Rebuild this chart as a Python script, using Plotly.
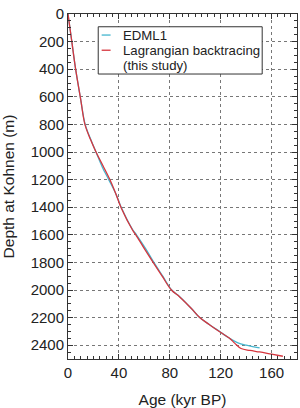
import plotly.graph_objects as go

edml_age = [0, 1.5, 3, 6, 10, 13.5, 18, 22, 27, 32, 37.5, 41.8, 51, 53.8, 61, 67.5, 74.5, 81.5, 88, 97, 103.5, 111, 119.5, 127, 133.6, 140, 150.6]
edml_depth = [0, 100, 200, 400, 620, 800, 912, 1000, 1110, 1200, 1300, 1400, 1565, 1600, 1700, 1800, 1900, 2000, 2050, 2134, 2200, 2250, 2303, 2350, 2383, 2400, 2420]

lag_age = [0, 1.5, 3, 6, 10, 13.3, 17.8, 22, 27.5, 32.9, 37.5, 41.6, 50.7, 53.3, 60, 66.9, 74, 81.3, 87.8, 97, 103.5, 111, 119.2, 127, 131, 136, 143, 150.6, 160, 168.9]
lag_depth = [0, 100, 200, 400, 620, 800, 912, 1000, 1100, 1200, 1300, 1400, 1565, 1600, 1700, 1800, 1900, 2000, 2050, 2134, 2200, 2250, 2303, 2350, 2385, 2424, 2438, 2449, 2465, 2480]

names = ["EDML1", "Lagrangian backtracing", "(this study)"]
colors = ["#45b6cf", "#d6353d"]
FONT = "Liberation Sans, Arial, Helvetica"

fig = go.Figure()
fig.add_trace(go.Scatter(x=edml_age, y=edml_depth, mode="lines", name=names[0],
                         line=dict(color=colors[0], width=1.3), line_shape="spline"))
fig.add_trace(go.Scatter(x=lag_age, y=lag_depth, mode="lines", name=names[1] + " " + names[2],
                         line=dict(color=colors[1], width=1.3), line_shape="spline"))

axis_common = dict(
    showline=True, linecolor="#333", linewidth=1, mirror="allticks",
    ticks="inside", ticklen=5, tickcolor="#333",
    showgrid=True, gridcolor="#777", griddash="dot", gridwidth=1,
    zeroline=False,
    tickfont=dict(family=FONT, size=15, color="#222"),
)

fig.update_xaxes(range=[0, 180], tickvals=[0, 40, 80, 120, 160],
                 title=dict(text="Age (kyr BP)", font=dict(family=FONT, size=15.5, color="#222"), standoff=14),
                 minor=dict(dtick=5, ticklen=3, ticks="inside", tickcolor="#333", showgrid=False),
                 **axis_common)
fig.update_yaxes(range=[2500, 0], tickvals=list(range(0, 2500, 200)),
                 title=dict(text="Depth at Kohnen (m)", font=dict(family=FONT, size=15.5, color="#222"), standoff=12),
                 minor=dict(dtick=50, ticklen=3, ticks="inside", tickcolor="#333", showgrid=False),
                 **axis_common)

# custom legend (box, line samples, labels) in paper coordinates
shapes = [dict(type="rect", xref="paper", yref="paper", x0=0.132, x1=0.848, y0=0.826, y1=0.963,
               line=dict(color="#333", width=1), fillcolor="white", layer="above")]
annotations = []
rows = [0.939, 0.895, 0.852]
for i, c in enumerate(colors):
    shapes.append(dict(type="line", xref="paper", yref="paper", x0=0.147, x1=0.186,
                       y0=rows[i], y1=rows[i], line=dict(color=c, width=1.3), layer="above"))
for i, t in enumerate(names):
    annotations.append(dict(text=t, xref="paper", yref="paper", x=0.232, y=rows[i],
                            xanchor="left", yanchor="middle", showarrow=False,
                            font=dict(family=FONT, size=13.2, color="#222")))

fig.update_layout(
    width=300, height=408,
    margin=dict(l=68, r=2.5, t=14, b=49),
    plot_bgcolor="white", paper_bgcolor="white",
    font=dict(family=FONT, size=13, color="#222"),
    showlegend=False,
    shapes=shapes, annotations=annotations,
)

fig.write_html("out.html")
